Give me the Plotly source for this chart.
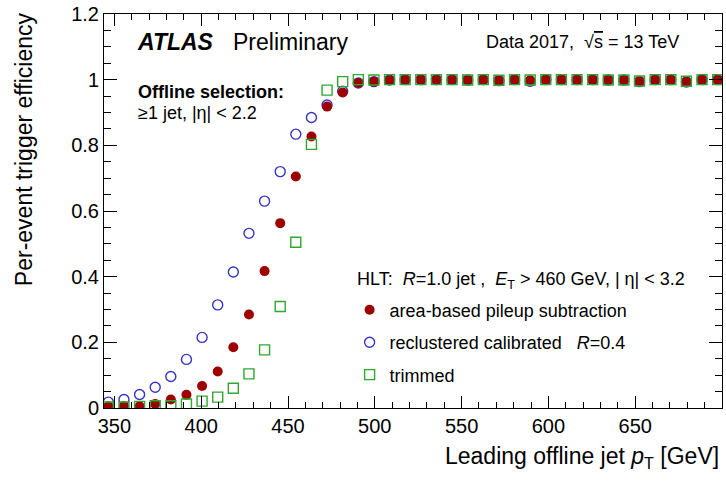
import plotly.graph_objects as go

# Bin centres of the leading offline jet pT (GeV), 9 GeV bins
pt = [346.5 + 9 * k for k in range(40)]

# Per-event trigger efficiency for each HLT jet configuration
eff_area = [0.005, 0.005, 0.005, 0.012, 0.026, 0.040, 0.067, 0.111, 0.185, 0.285,
            0.417, 0.563, 0.705, 0.827, 0.918, 0.961, 0.990, 0.994, 0.998, 1.000,
            1.000, 1.000, 1.000, 0.999, 1.000, 0.997, 1.000, 0.998, 1.000, 1.000,
            1.000, 1.000, 0.999, 0.999, 0.995, 1.000, 1.000, 0.994, 1.000, 1.000]
eff_recl = [0.018, 0.026, 0.041, 0.063, 0.096, 0.148, 0.215, 0.314, 0.414, 0.532,
            0.630, 0.720, 0.834, 0.885, 0.923, 0.965, 0.990, 0.994, 0.999, 1.000,
            1.000, 1.000, 1.000, 0.999, 1.000, 0.997, 1.000, 0.995, 1.000, 1.000,
            1.000, 1.000, 0.999, 0.999, 0.994, 1.000, 1.000, 0.993, 1.000, 1.000]
eff_trim = [0.003, 0.003, 0.005, 0.007, 0.007, 0.012, 0.021, 0.033, 0.060, 0.104,
            0.177, 0.309, 0.505, 0.803, 0.968, 0.994, 1.000, 0.999, 1.000, 1.000,
            1.000, 1.000, 1.000, 0.999, 1.000, 0.998, 1.000, 0.999, 1.000, 1.000,
            1.000, 1.000, 0.999, 0.999, 0.996, 1.000, 1.000, 0.995, 1.000, 1.000]

x_ticks = [350, 400, 450, 500, 550, 600, 650]
y_ticks = [0, 0.2, 0.4, 0.6, 0.8, 1.0, 1.2]
y_tick_text = ["0", "0.2", "0.4", "0.6", "0.8", "1", "1.2"]

FONT = "Liberation Sans, Arial, Helvetica, sans-serif"
RED = "#9c0000"
BLUE = "#3434c8"
GREEN = "#2ea82e"

fig = go.Figure()
fig.add_trace(go.Scatter(
    x=pt, y=eff_recl, mode="markers", name="reclustered calibrated   <i>R</i>=0.4",
    legendgroup="b", legendrank=2,
    marker=dict(symbol="circle-open", size=10, color=BLUE, line=dict(width=1.4, color=BLUE))))
fig.add_trace(go.Scatter(
    x=pt, y=eff_area, mode="markers", name="area-based pileup subtraction",
    legendgroup="a", legendrank=1,
    marker=dict(symbol="circle", size=10, color=RED, line=dict(width=0))))
fig.add_trace(go.Scatter(
    x=pt, y=eff_trim, mode="markers", name="trimmed",
    legendgroup="c", legendrank=3,
    marker=dict(symbol="square-open", size=10, color=GREEN, line=dict(width=1.4, color=GREEN))))

axis_common = dict(
    showline=True, linecolor="black", linewidth=1, mirror="ticks",
    ticks="inside", tickcolor="black", tickwidth=1,
    showgrid=False, zeroline=False,
    tickfont=dict(family=FONT, size=20, color="black"),
)
fig.update_xaxes(range=[344, 700], tickvals=x_ticks, ticklen=12,
                 minor=dict(ticks="inside", ticklen=6, dtick=10, tick0=340,
                            tickcolor="black", showgrid=False),
                 **axis_common)
fig.update_yaxes(range=[0, 1.2], tickvals=y_ticks, ticktext=y_tick_text, ticklen=13,
                 minor=dict(ticks="inside", ticklen=7, dtick=0.05, tick0=0,
                            tickcolor="black", showgrid=False),
                 **axis_common)

W, H = 726, 481
L, R, T, B = 104, 3, 12, 73


def px(xp):
    return (xp - L) / (W - L - R)


def py(yp):
    return (H - B - yp) / (H - T - B)


def note(text, x, y, size=18, xanchor="left", yanchor="middle", **kw):
    fig.add_annotation(text=text, x=px(x), y=py(y), xref="paper", yref="paper",
                       xanchor=xanchor, yanchor=yanchor, showarrow=False,
                       font=dict(family=FONT, size=size, color="black"), **kw)


note("<b><i>ATLAS</i></b>", 135, 40, size=23)
note("Preliminary", 231, 40, size=23)
note("Data 2017,  √<span style='text-decoration:overline'>s</span> = 13 TeV", 682, 40,
     xanchor="right")
note("<b>Offline selection:</b>", 136, 90)
note("≥1 jet, |η| < 2.2", 136, 112)
note("HLT:  <i>R</i>=1.0 jet ,  <i>E</i><sub>T</sub> > 460 GeV, | η| < 3.2", 355, 280)
note("Leading offline jet <i>p</i><sub>T</sub> [GeV]", 722, 458, size=23, xanchor="right")
note("Per-event trigger efficiency", 24, 8, size=23, xanchor="center", yanchor="top",
     textangle=-90)

fig.update_layout(
    width=W, height=H,
    margin=dict(l=L, r=R, t=T, b=B),
    paper_bgcolor="white", plot_bgcolor="white",
    showlegend=True,
    legend=dict(x=px(350), y=py(291), xanchor="left", yanchor="top",
                bgcolor="rgba(255,255,255,0)", tracegroupgap=6,
                font=dict(family=FONT, size=18, color="black")),
)

fig.write_html("out.html")
